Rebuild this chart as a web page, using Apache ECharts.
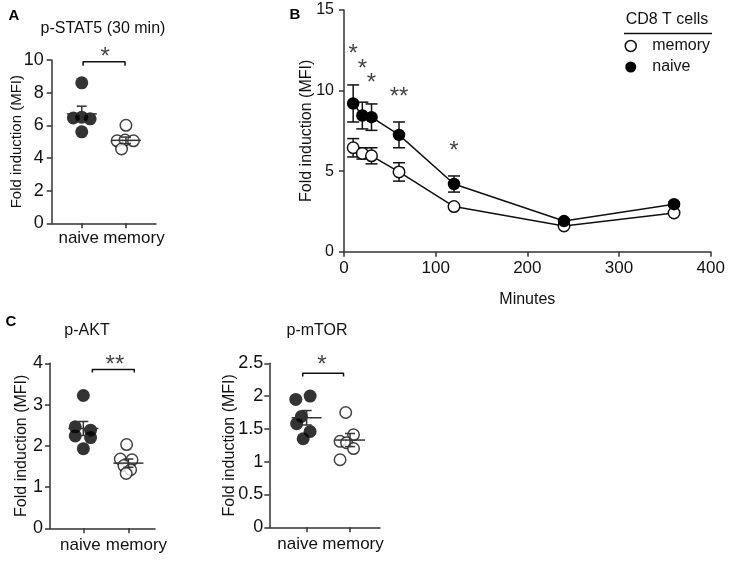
<!DOCTYPE html>
<html>
<head>
<meta charset="utf-8">
<script src="https://cdn.jsdelivr.net/npm/echarts@6.0.0/dist/echarts.min.js"></script>
<style>
  html, body { margin: 0; padding: 0; background: #fff; }
  #chart { width: 731px; height: 562px; }
</style>
</head>
<body>
<div id="chart"></div>
<script>
// ---------------- DATA ----------------
const categories = ['naive', 'memory'];

// Panel A: p-STAT5 (30 min)
const stat5NaiveVals = [8.6, 6.45, 6.5, 6.4, 5.6];
const stat5NaiveJitter = [0, -0.19, 0, 0.19, 0];
const stat5MemoryVals = [6.0, 5.05, 5.1, 5.05, 4.55];
const stat5MemoryJitter = [0, -0.2, -0.02, 0.17, -0.1];
const stat5Mean = [6.7, 5.08];
const stat5Sem = [0.47, 0.2];
const stat5BracketX = [0.03, 0.98];
const stat5BracketY = [9.65, 9.9];
const stat5Star = [0.53, 10.5, '*'];

// Panel B: time course
const minutes = [10, 20, 30, 60, 120, 240, 360];
const naiveMean = [9.2, 8.45, 8.35, 7.25, 4.2, 1.9, 2.95];
const naiveSem = [1.15, 0.83, 0.82, 0.8, 0.5, 0.12, 0.12];
const memoryMean = [6.45, 6.1, 5.95, 4.95, 2.8, 1.6, 2.4];
const memorySem = [0.57, 0.35, 0.5, 0.57, 0.1, 0.08, 0.08];
const sigMinutes = [10, 20, 30, 60, 120];
const sigY = [12.6, 11.7, 10.8, 9.95, 6.6];
const sigLabels = ['*', '*', '*', '**', '*'];

// Panel C: p-AKT
const aktNaiveVals = [3.22, 2.46, 2.24, 2.38, 2.2, 1.93];
const aktNaiveJitter = [0, -0.18, -0.18, 0.16, 0.16, 0];
const aktMemoryVals = [2.03, 1.68, 1.66, 1.52, 1.42, 1.33];
const aktMemoryJitter = [-0.04, -0.18, 0.08, -0.1, 0.05, -0.05];
const aktMean = [2.42, 1.58];
const aktSem = [0.17, 0.1];
const aktBracketX = [0.2, 1.13];
const aktBracketY = [3.78, 3.85];
const aktStar = [0.7, 4.1, '**'];

// Panel C: p-mTOR
const mtorNaiveVals = [1.95, 2.0, 1.69, 1.58, 1.46, 1.35];
const mtorNaiveJitter = [-0.25, 0.08, -0.12, -0.23, 0.08, -0.08];
const mtorMemoryVals = [1.75, 1.41, 1.31, 1.29, 1.2, 1.03];
const mtorMemoryJitter = [-0.1, 0.08, -0.23, -0.08, 0.08, -0.23];
const mtorMean = [1.67, 1.33];
const mtorSem = [0.11, 0.1];
const mtorBracketX = [-0.09, 0.85];
const mtorBracketY = [2.3, 2.35];
const mtorStar = [0.35, 2.56, '*'];

// ---------------- STYLE ----------------
const FONT = '"Liberation Sans", Arial, Helvetica, sans-serif';
const AX = '#333';
const TXT = '#111';

function baseAxis(extra) {
  return Object.assign({
    axisLine: { show: true, onZero: false, lineStyle: { color: AX, width: 1.5 } },
    axisTick: { show: true, length: 5, lineStyle: { color: AX, width: 1.5 } },
    splitLine: { show: false },
    nameMoveOverlap: false,
    axisLabel: { fontSize: 16, color: TXT, fontFamily: FONT },
    nameTextStyle: { fontSize: 16, color: TXT, fontFamily: FONT }
  }, extra);
}

function catXAxis(gridIndex, min, max, padN, padM, margin) {
  return baseAxis({
    type: 'value', gridIndex, min, max,
    axisTick: { show: true, length: 5, customValues: [0, 1], lineStyle: { color: AX, width: 1.5 } },
    axisLabel: {
      customValues: [0, 1], margin,
      fontSize: 17, color: TXT, fontFamily: FONT,
      formatter: v => (Math.round(v) === 0 ? '{n|' + categories[0] + '}' : '{m|' + categories[1] + '}'),
      rich: {
        n: { fontSize: 17, color: TXT, fontFamily: FONT, padding: [0, padN, 0, 0] },
        m: { fontSize: 17, color: TXT, fontFamily: FONT, padding: [0, 0, 0, padM] }
      }
    }
  });
}

function yAxisDef(gridIndex, max, interval, nameGap, margin, labelSize, nameSize) {
  return baseAxis({
    type: 'value', gridIndex, min: 0, max, interval,
    name: 'Fold induction (MFI)', nameLocation: 'middle', nameGap,
    nameTextStyle: { fontSize: nameSize, color: TXT, fontFamily: FONT },
    axisLabel: { fontSize: labelSize, color: TXT, fontFamily: FONT, margin }
  });
}

function meanSemRender(params, api) {
  const x = api.value(0), m = api.value(1), s = api.value(2);
  const pm = api.coord([x, m]);
  const ph = api.coord([x, m + s]);
  const pl = api.coord([x, m - s]);
  const st = { stroke: AX, lineWidth: 1.5, fill: null };
  return {
    type: 'group', children: [
      { type: 'line', shape: { x1: pm[0] - 15, y1: pm[1], x2: pm[0] + 15, y2: pm[1] }, style: st },
      { type: 'line', shape: { x1: pl[0], y1: pl[1], x2: ph[0], y2: ph[1] }, style: st },
      { type: 'line', shape: { x1: ph[0] - 5, y1: ph[1], x2: ph[0] + 5, y2: ph[1] }, style: st },
      { type: 'line', shape: { x1: pl[0] - 5, y1: pl[1], x2: pl[0] + 5, y2: pl[1] }, style: st }
    ]
  };
}

function errRender(params, api) {
  const x = api.value(0), lo = api.value(1), hi = api.value(2);
  const pl = api.coord([x, lo]);
  const ph = api.coord([x, hi]);
  const st = { stroke: '#111', lineWidth: 1.5, fill: null };
  return {
    type: 'group', children: [
      { type: 'line', shape: { x1: pl[0], y1: pl[1], x2: ph[0], y2: ph[1] }, style: st },
      { type: 'line', shape: { x1: ph[0] - 6, y1: ph[1], x2: ph[0] + 6, y2: ph[1] }, style: st },
      { type: 'line', shape: { x1: pl[0] - 6, y1: pl[1], x2: pl[0] + 6, y2: pl[1] }, style: st }
    ]
  };
}

function starSeries(idx, data, name) {
  return {
    type: 'scatter', name, xAxisIndex: idx, yAxisIndex: idx,
    clip: false,
    symbol: 'circle', symbolSize: 2, itemStyle: { color: 'rgba(0,0,0,0)' }, z: 5,
    data,
    label: {
      show: true, position: 'inside', offset: [0, 6],
      formatter: p => p.value[2],
      fontSize: 24, color: TXT, fontFamily: FONT
    },
    emphasis: { disabled: true }
  };
}

function dotPanel(idx, tag, nVals, nJit, mVals, mJit, mean, sem, bx, by, star) {
  return [
    {
      type: 'scatter', name: tag + ' naive', xAxisIndex: idx, yAxisIndex: idx, z: 2,
      symbol: 'circle', symbolSize: 13, itemStyle: { color: '#000' },
      data: nVals.map((v, i) => [nJit[i], v])
    },
    {
      type: 'scatter', name: tag + ' memory', xAxisIndex: idx, yAxisIndex: idx, z: 2,
      symbol: 'circle', symbolSize: 11.5, itemStyle: { color: '#fff', borderColor: '#111', borderWidth: 1.5 },
      data: mVals.map((v, i) => [1 + mJit[i], v])
    },
    {
      type: 'custom', name: tag + ' mean', xAxisIndex: idx, yAxisIndex: idx, z: 3,
      renderItem: meanSemRender,
      data: [0, 1].map(i => [i, mean[i], sem[i]])
    },
    {
      type: 'line', name: tag + ' bracket', xAxisIndex: idx, yAxisIndex: idx, z: 3,
      symbol: 'none', lineStyle: { color: '#111', width: 1.5 },
      data: [[bx[0], by[0]], [bx[0], by[1]], [bx[1], by[1]], [bx[1], by[0]]]
    },
    starSeries(idx, [star], tag + ' star')
  ];
}

// ---------------- CHART ----------------
const chart = echarts.init(document.getElementById('chart'), null, { renderer: 'canvas' });

const option = {
  animation: false,
  backgroundColor: '#fff',
  textStyle: { fontFamily: FONT },
  grid: [
    { left: 51.7, top: 60, width: 104.3, height: 163.3, containLabel: false, outerBoundsMode: 'none' },
    { left: 344, top: 10, width: 366.7, height: 241.7, containLabel: false, outerBoundsMode: 'none' },
    { left: 50, top: 363.3, width: 105, height: 165, containLabel: false, outerBoundsMode: 'none' },
    { left: 269.3, top: 363.3, width: 110.7, height: 164, containLabel: false, outerBoundsMode: 'none' }
  ],
  xAxis: [
    catXAxis(0, -0.68, 1.68, 6, 16, 7),
    baseAxis({
      type: 'value', gridIndex: 1, min: 0, max: 400, interval: 100,
      name: 'Minutes', nameLocation: 'middle', nameGap: 40,
      axisLabel: { fontSize: 17, color: TXT, fontFamily: FONT, margin: 8 }
    }),
    catXAxis(2, -0.74, 1.59, 6, 16, 9),
    catXAxis(3, -0.86, 1.69, 18, 6, 9)
  ],
  yAxis: [
    yAxisDef(0, 10, 2, 27, 8, 18, 15),
    yAxisDef(1, 15, 5, 29, 10, 16, 16),
    yAxisDef(2, 4, 1, 20, 7, 18, 16),
    yAxisDef(3, 2.5, 0.5, 32, 6, 18, 16)
  ],
  legend: {
    orient: 'vertical', left: 619.5, top: 33, itemGap: 5,
    itemWidth: 11, itemHeight: 11,
    selectedMode: false,
    textStyle: { fontSize: 16, color: TXT, fontFamily: FONT, padding: [0, 0, 0, 11] },
    data: [
      { name: 'memory', icon: 'circle', itemStyle: { color: '#fff', borderColor: '#111', borderWidth: 1.5 } },
      { name: 'naive', icon: 'circle', itemStyle: { color: '#000', borderWidth: 0 } }
    ]
  },
  graphic: [
    { type: 'text', x: 14, y: 16, style: { text: 'A', fontSize: 15, fontWeight: 'bold', fontFamily: FONT, fill: '#000', align: 'center', verticalAlign: 'middle' } },
    { type: 'text', x: 295, y: 15, style: { text: 'B', fontSize: 15, fontWeight: 'bold', fontFamily: FONT, fill: '#000', align: 'center', verticalAlign: 'middle' } },
    { type: 'text', x: 11, y: 322, style: { text: 'C', fontSize: 15, fontWeight: 'bold', fontFamily: FONT, fill: '#000', align: 'center', verticalAlign: 'middle' } },
    { type: 'text', x: 103, y: 29, style: { text: 'p-STAT5 (30 min)', fontSize: 16, fontFamily: FONT, fill: TXT, align: 'center', verticalAlign: 'middle' } },
    { type: 'text', x: 87, y: 331, style: { text: 'p-AKT', fontSize: 16, fontFamily: FONT, fill: TXT, align: 'center', verticalAlign: 'middle' } },
    { type: 'text', x: 317, y: 331, style: { text: 'p-mTOR', fontSize: 16, fontFamily: FONT, fill: TXT, align: 'center', verticalAlign: 'middle' } },
    { type: 'text', x: 667, y: 20, style: { text: 'CD8 T cells', fontSize: 16, fontFamily: FONT, fill: TXT, align: 'center', verticalAlign: 'middle' } },
    { type: 'line', shape: { x1: 624, y1: 33.5, x2: 712, y2: 33.5 }, style: { stroke: '#111', lineWidth: 1.5 } }
  ],
  series: [
    ...dotPanel(0, 'stat5', stat5NaiveVals, stat5NaiveJitter, stat5MemoryVals, stat5MemoryJitter,
      stat5Mean, stat5Sem, stat5BracketX, stat5BracketY, stat5Star),
    {
      type: 'custom', name: 'memory err', xAxisIndex: 1, yAxisIndex: 1, z: 1,
      renderItem: errRender,
      data: minutes.map((t, i) => [t, memoryMean[i] - memorySem[i], memoryMean[i] + memorySem[i]])
    },
    {
      type: 'custom', name: 'naive err', xAxisIndex: 1, yAxisIndex: 1, z: 1,
      renderItem: errRender,
      data: minutes.map((t, i) => [t, naiveMean[i] - naiveSem[i], naiveMean[i] + naiveSem[i]])
    },
    {
      type: 'line', name: 'memory', xAxisIndex: 1, yAxisIndex: 1, z: 2,
      symbol: 'circle', symbolSize: 11.5, showAllSymbol: true,
      itemStyle: { color: '#fff', borderColor: '#111', borderWidth: 1.5 },
      lineStyle: { color: '#111', width: 1.5 },
      data: minutes.map((t, i) => [t, memoryMean[i]])
    },
    {
      type: 'line', name: 'naive', xAxisIndex: 1, yAxisIndex: 1, z: 3,
      symbol: 'circle', symbolSize: 12.5, showAllSymbol: true,
      itemStyle: { color: '#000', borderWidth: 0 },
      lineStyle: { color: '#111', width: 1.5 },
      data: minutes.map((t, i) => [t, naiveMean[i]])
    },
    starSeries(1, sigMinutes.map((t, i) => [t, sigY[i], sigLabels[i]]), 'B stars'),
    ...dotPanel(2, 'akt', aktNaiveVals, aktNaiveJitter, aktMemoryVals, aktMemoryJitter,
      aktMean, aktSem, aktBracketX, aktBracketY, aktStar),
    ...dotPanel(3, 'mtor', mtorNaiveVals, mtorNaiveJitter, mtorMemoryVals, mtorMemoryJitter,
      mtorMean, mtorSem, mtorBracketX, mtorBracketY, mtorStar)
  ]
};

chart.setOption(option);
</script>
</body>
</html>
